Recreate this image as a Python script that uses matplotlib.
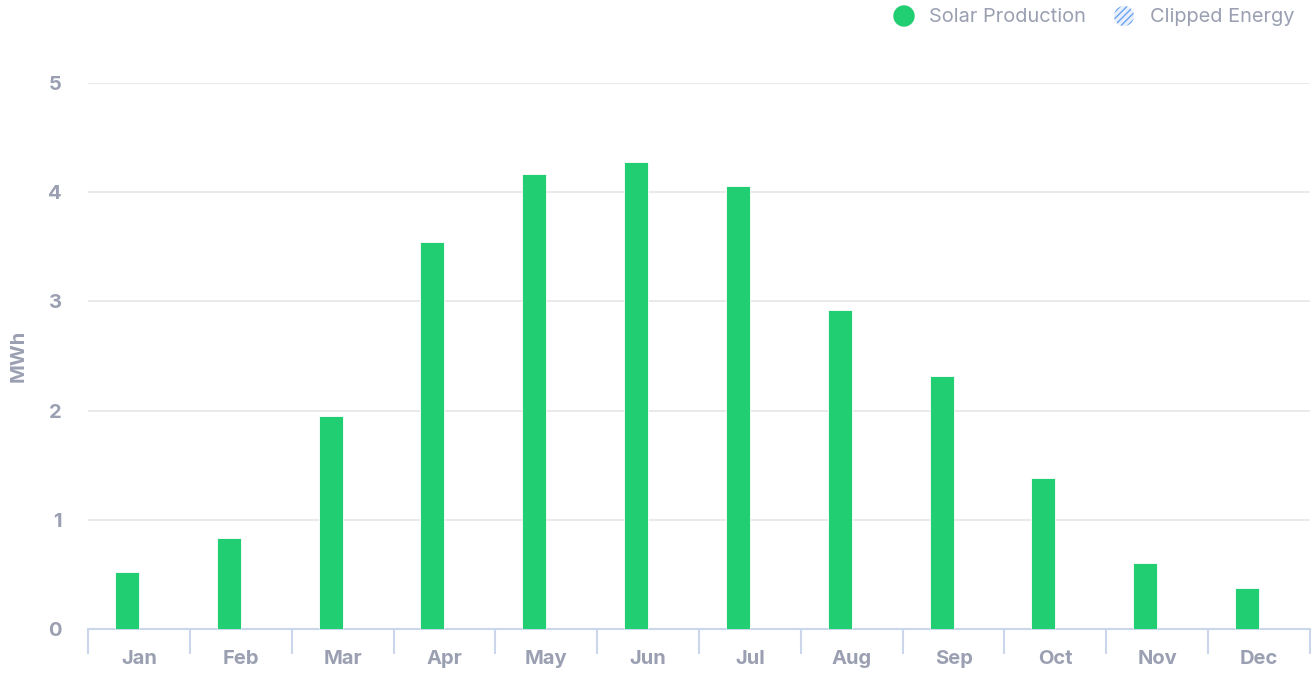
import numpy as np
import matplotlib
matplotlib.use("Agg")
import matplotlib.pyplot as plt
from matplotlib.patches import Circle

plt.rcParams['font.family'] = ['Inter', 'DejaVu Sans']

months = ["Jan", "Feb", "Mar", "Apr", "May", "Jun", "Jul", "Aug", "Sep", "Oct", "Nov", "Dec"]
solar = [0.52, 0.83, 1.95, 3.54, 4.17, 4.28, 4.06, 2.92, 2.32, 1.38, 0.60, 0.38]
clipped = [0, 0, 0, 0, 0, 0, 0, 0, 0, 0, 0, 0]

green = "#22ce72"
txt = "#9aa0b2"

fig = plt.figure(figsize=(13.14, 6.74), dpi=100)
ax = fig.add_axes([88 / 1314, 45 / 674, 1222 / 1314, 546 / 674])

x = np.arange(len(months))
w = 0.236
ax.bar(x - w / 2, solar, width=w, color=green, edgecolor="white", linewidth=0.6, zorder=3)
# clipped energy is zero every month, so these bars have no height
ax.bar(x + w / 2, clipped, width=w, color="#6fa3ef", linewidth=0, zorder=3)

ax.set_xlim(-0.5, 11.5)
ax.set_ylim(0, 5)
ax.set_yticks([0, 1, 2, 3, 4, 5])
ax.grid(axis="y", color="#e6e6e6", linewidth=1.2, zorder=0)
ax.set_xticks(x)
ax.set_xticklabels(months)
ax.set_xticks(np.arange(-0.5, 12, 1), minor=True)
ax.tick_params(axis="x", which="major", length=0, pad=15, labelsize=14.5, labelcolor=txt)
ax.tick_params(axis="x", which="minor", length=18, width=1.5, color="#ccd6eb")
ax.tick_params(axis="y", length=0, pad=19, labelsize=14.5, labelcolor=txt)
for lab in ax.get_xticklabels() + ax.get_yticklabels():
    lab.set_fontweight("bold")

for s in ["top", "right", "left"]:
    ax.spines[s].set_visible(False)
ax.spines["bottom"].set_color("#ccd6eb")
ax.spines["bottom"].set_linewidth(1.5)

ax.set_ylabel("MWh", color=txt, fontsize=14.5, fontweight="bold")
ax.yaxis.set_label_coords(-60 / 1222, 0.5)

# legend
fig.text(929 / 1314, 1 - 17 / 674, "Solar Production", color=txt, fontsize=14.4, va="center")
fig.text(1150 / 1314, 1 - 17 / 674, "Clipped Energy", color=txt, fontsize=14.4, va="center")
lax = fig.add_axes([0, 0, 1, 1], facecolor="none")
lax.set_xlim(0, 1314)
lax.set_ylim(674, 0)
lax.axis("off")
lax.add_patch(Circle((904, 16), 10, color=green))
lax.add_patch(Circle((1124, 16), 10, facecolor="#e8f0fd", hatch="/////", edgecolor="#6fa3ef", linewidth=0))

fig.savefig("out.png", dpi=100)
